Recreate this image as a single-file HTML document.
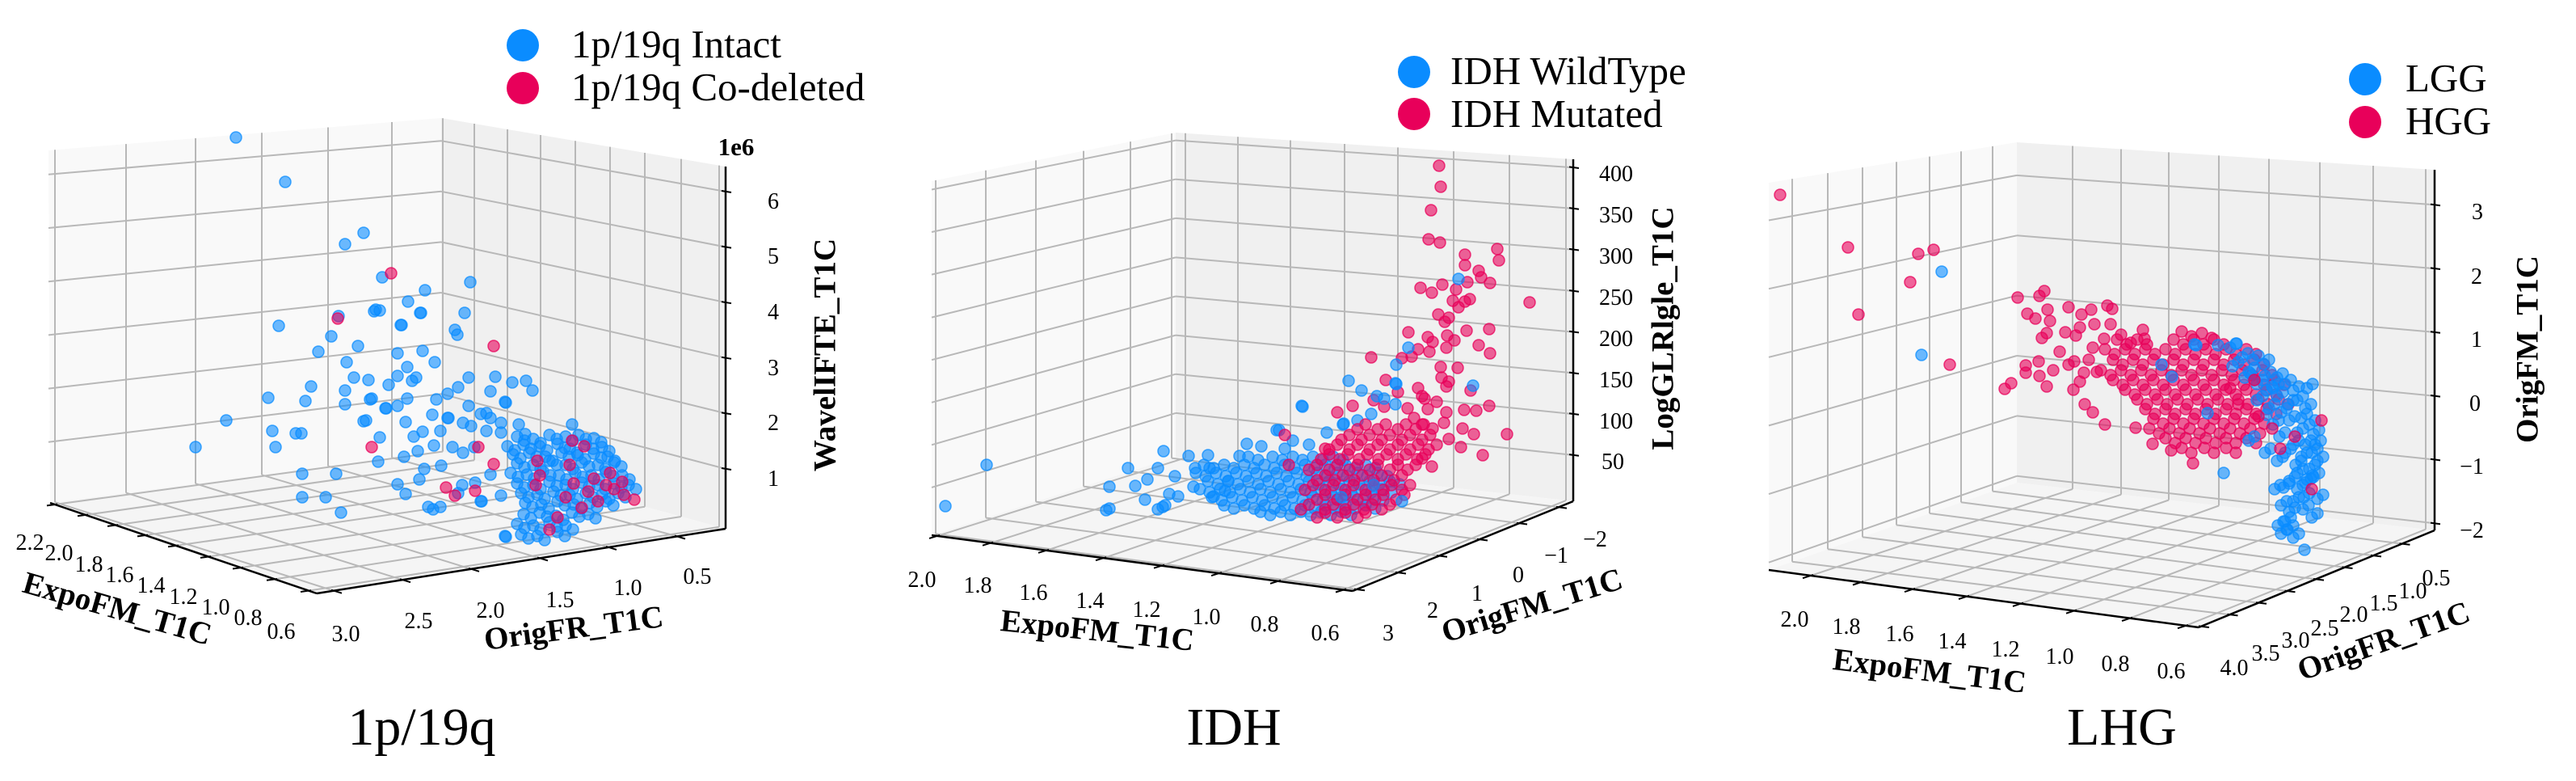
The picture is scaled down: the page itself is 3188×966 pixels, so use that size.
<!DOCTYPE html>
<html><head><meta charset="utf-8"><style>
html,body{margin:0;padding:0;background:#fff;}
svg{display:block}
.t{font-family:"Liberation Serif",serif;font-size:28px;fill:#000}
.al{font-family:"Liberation Serif",serif;font-size:39px;font-weight:bold;fill:#000}
.lg{font-family:"Liberation Serif",serif;font-size:49px;fill:#000}
.ti{font-family:"Liberation Serif",serif;font-size:66px;fill:#000}
.g line{stroke:#b8b8b8;stroke-width:2}
.ax{stroke:#000;stroke-width:2.5}
.tk line{stroke:#000;stroke-width:2}
</style></head><body>
<svg width="3188" height="966" viewBox="0 0 3188 966" xmlns="http://www.w3.org/2000/svg" xmlns:xlink="http://www.w3.org/1999/xlink">
<rect width="3188" height="966" fill="#fff"/>

<!-- ================= PANEL 1 ================= -->
<polygon points="60,186 546,146 546,558 62,622" fill="#f9f9f9"/>
<polygon points="546,146 898,206 898,654 546,558" fill="#f0f0f0"/>
<polygon points="62,622 546,558 898,654 392,734" fill="#f5f5f5"/>
<g class="g">
<line x1="68" y1="185.3" x2="68" y2="621.2"/><line x1="156" y1="178.1" x2="156" y2="609.6"/><line x1="242" y1="171" x2="242" y2="598.2"/><line x1="324" y1="164.3" x2="324" y2="587.4"/><line x1="406" y1="157.5" x2="406" y2="576.6"/><line x1="485" y1="151" x2="485" y2="566.1"/>
<line x1="60" y1="215.8" x2="546" y2="174.2"/><line x1="60" y1="282" x2="546" y2="236.8"/><line x1="60" y1="348.2" x2="546" y2="299.4"/><line x1="60" y1="414.4" x2="546" y2="362"/><line x1="60" y1="480.6" x2="546" y2="424.6"/><line x1="60" y1="546.8" x2="546" y2="487.2"/>
<line x1="546" y1="174.2" x2="898" y2="236.9"/><line x1="546" y1="236.8" x2="898" y2="305.5"/><line x1="546" y1="299.4" x2="898" y2="374.1"/><line x1="546" y1="362" x2="898" y2="442.7"/><line x1="546" y1="424.6" x2="898" y2="511.3"/><line x1="546" y1="487.2" x2="898" y2="579.9"/>
<line x1="548" y1="146.3" x2="548" y2="558.5"/><line x1="587" y1="153" x2="587" y2="569.2"/><line x1="628" y1="160" x2="628" y2="580.4"/><line x1="669" y1="167" x2="669" y2="591.5"/><line x1="712" y1="174.3" x2="712" y2="603.3"/><line x1="755" y1="181.6" x2="755" y2="615"/><line x1="798" y1="189" x2="798" y2="626.7"/><line x1="843" y1="196.6" x2="843" y2="639"/><line x1="890" y1="204.6" x2="890" y2="651.8"/>
<line x1="68" y1="624" x2="548" y2="558.5"/><line x1="106" y1="636.9" x2="587" y2="569.2"/><line x1="143" y1="649.5" x2="628" y2="580.4"/><line x1="180" y1="662" x2="669" y2="591.5"/><line x1="218" y1="674.9" x2="712" y2="603.3"/><line x1="258" y1="688.5" x2="755" y2="615"/><line x1="298" y1="702.1" x2="798" y2="626.7"/><line x1="340" y1="716.4" x2="843" y2="639"/><line x1="382" y1="730.6" x2="890" y2="651.8"/>
<line x1="68" y1="621.2" x2="413" y2="730.7"/><line x1="156" y1="609.6" x2="498" y2="717.2"/><line x1="242" y1="598.2" x2="583" y2="703.8"/><line x1="324" y1="587.4" x2="668" y2="690.4"/><line x1="406" y1="576.6" x2="753" y2="676.9"/><line x1="485" y1="566.1" x2="838" y2="663.5"/>
</g>
<line class="ax" x1="898" y1="206" x2="898" y2="654"/>
<line class="ax" x1="62" y1="622" x2="392" y2="734"/>
<line class="ax" x1="392" y1="734" x2="898" y2="654"/>
<g class="tk">
<line x1="893" y1="236" x2="905" y2="238"/><line x1="893" y1="304.6" x2="905" y2="306.6"/><line x1="893" y1="373.2" x2="905" y2="375.2"/><line x1="893" y1="441.8" x2="905" y2="443.8"/><line x1="893" y1="510.4" x2="905" y2="512.4"/><line x1="893" y1="579" x2="905" y2="581"/>
<line x1="71" y1="623.6" x2="58" y2="625.4"/><line x1="109" y1="636.5" x2="96" y2="638.3"/><line x1="146" y1="649.1" x2="133" y2="650.9"/><line x1="183" y1="661.6" x2="170" y2="663.4"/><line x1="221" y1="674.5" x2="208" y2="676.3"/><line x1="261" y1="688.1" x2="248" y2="689.9"/><line x1="301" y1="701.7" x2="288" y2="703.5"/><line x1="343" y1="716" x2="330" y2="717.8"/><line x1="385" y1="730.2" x2="372" y2="732"/>
<line x1="410" y1="729.7" x2="423" y2="733.7"/><line x1="495" y1="716.2" x2="508" y2="720.2"/><line x1="580" y1="702.8" x2="593" y2="706.8"/><line x1="665" y1="689.4" x2="678" y2="693.4"/><line x1="750" y1="675.9" x2="763" y2="679.9"/><line x1="835" y1="662.5" x2="848" y2="666.5"/>
</g>
<g fill="#0a8cff" fill-opacity=".6" stroke="#0a8cff" stroke-opacity=".75" stroke-width="1.5">
<circle cx="292" cy="170" r="7"/><circle cx="353" cy="225" r="7"/><circle cx="450" cy="288" r="7"/><circle cx="427" cy="302" r="7"/><circle cx="473" cy="343" r="7"/><circle cx="582" cy="349" r="7"/><circle cx="526" cy="359" r="7"/><circle cx="505" cy="373" r="7"/><circle cx="465" cy="383" r="7"/><circle cx="470" cy="384" r="7"/><circle cx="521" cy="387" r="7"/><circle cx="419" cy="391" r="7"/><circle cx="575" cy="387" r="7"/><circle cx="345" cy="403" r="7"/><circle cx="496" cy="402" r="7"/><circle cx="563" cy="408" r="7"/><circle cx="566" cy="414" r="7"/><circle cx="410" cy="416" r="7"/><circle cx="394" cy="435" r="7"/><circle cx="443" cy="428" r="7"/><circle cx="492" cy="437" r="7"/><circle cx="523" cy="434" r="7"/><circle cx="538" cy="448" r="7"/><circle cx="429" cy="448" r="7"/><circle cx="504" cy="454" r="7"/><circle cx="438" cy="467" r="7"/><circle cx="456" cy="470" r="7"/><circle cx="481" cy="476" r="7"/><circle cx="492" cy="465" r="7"/><circle cx="515" cy="467" r="7"/><circle cx="510" cy="471" r="7"/><circle cx="580" cy="467" r="7"/><circle cx="613" cy="466" r="7"/><circle cx="634" cy="473" r="7"/><circle cx="651" cy="471" r="7"/><circle cx="385" cy="478" r="7"/><circle cx="427" cy="483" r="7"/><circle cx="567" cy="479" r="7"/><circle cx="607" cy="484" r="7"/><circle cx="332" cy="492" r="7"/><circle cx="378" cy="496" r="7"/><circle cx="458" cy="494" r="7"/><circle cx="504" cy="493" r="7"/><circle cx="540" cy="494" r="7"/><circle cx="554" cy="487" r="7"/><circle cx="427" cy="500" r="7"/><circle cx="477" cy="505" r="7"/><circle cx="492" cy="502" r="7"/><circle cx="626" cy="498" r="7"/><circle cx="535" cy="513" r="7"/><circle cx="580" cy="502" r="7"/><circle cx="602" cy="511" r="7"/><circle cx="280" cy="520" r="7"/><circle cx="450" cy="521" r="7"/><circle cx="502" cy="522" r="7"/><circle cx="554" cy="517" r="7"/><circle cx="642" cy="525" r="7"/><circle cx="337" cy="533" r="7"/><circle cx="366" cy="536" r="7"/><circle cx="373" cy="536" r="7"/><circle cx="470" cy="541" r="7"/><circle cx="512" cy="540" r="7"/><circle cx="523" cy="534" r="7"/><circle cx="242" cy="553" r="7"/><circle cx="341" cy="553" r="7"/><circle cx="468" cy="571" r="7"/><circle cx="500" cy="565" r="7"/><circle cx="517" cy="558" r="7"/><circle cx="374" cy="586" r="7"/><circle cx="416" cy="586" r="7"/><circle cx="525" cy="580" r="7"/><circle cx="546" cy="576" r="7"/><circle cx="519" cy="593" r="7"/><circle cx="492" cy="599" r="7"/><circle cx="374" cy="615" r="7"/><circle cx="403" cy="615" r="7"/><circle cx="502" cy="611" r="7"/><circle cx="596" cy="620" r="7"/><circle cx="422" cy="634" r="7"/><circle cx="536" cy="630" r="7"/><circle cx="626" cy="664" r="7"/><circle cx="463" cy="385" r="7"/><circle cx="497" cy="402" r="7"/><circle cx="520" cy="387" r="7"/><circle cx="659" cy="483" r="7"/><circle cx="460" cy="493" r="7"/><circle cx="478" cy="505" r="7"/><circle cx="625" cy="497" r="7"/><circle cx="453" cy="520" r="7"/><circle cx="555" cy="517" r="7"/><circle cx="595" cy="512" r="7"/><circle cx="607" cy="517" r="7"/><circle cx="620" cy="523" r="7"/><circle cx="545" cy="533" r="7"/><circle cx="573" cy="523" r="7"/><circle cx="583" cy="527" r="7"/><circle cx="602" cy="533" r="7"/><circle cx="620" cy="535" r="7"/><circle cx="650" cy="537" r="7"/><circle cx="537" cy="551" r="7"/><circle cx="560" cy="553" r="7"/><circle cx="573" cy="560" r="7"/><circle cx="587" cy="553" r="7"/><circle cx="530" cy="627" r="7"/><circle cx="545" cy="627" r="7"/><circle cx="595" cy="620" r="7"/><circle cx="625" cy="663" r="7"/><circle cx="567" cy="610" r="7"/><circle cx="572" cy="600" r="7"/><circle cx="588" cy="597" r="7"/><circle cx="607" cy="587" r="7"/><circle cx="620" cy="613" r="7"/><circle cx="708" cy="525" r="7"/>
</g>
<g id="d1b" fill="#0a8cff" fill-opacity=".6" stroke="#0a8cff" stroke-opacity=".75" stroke-width="1.5">
<circle cx="640" cy="540" r="7"/><circle cx="660" cy="543" r="7"/><circle cx="680" cy="538" r="7"/><circle cx="700" cy="540" r="7"/><circle cx="716" cy="538" r="7"/><circle cx="735" cy="542" r="7"/>
<circle cx="628" cy="552" r="7"/><circle cx="648" cy="550" r="7"/><circle cx="668" cy="552" r="7"/><circle cx="690" cy="549" r="7"/><circle cx="705" cy="555" r="7"/><circle cx="725" cy="550" r="7"/><circle cx="745" cy="553" r="7"/>
<circle cx="635" cy="562" r="7"/><circle cx="655" cy="560" r="7"/><circle cx="675" cy="565" r="7"/><circle cx="695" cy="560" r="7"/><circle cx="715" cy="563" r="7"/><circle cx="735" cy="561" r="7"/><circle cx="752" cy="565" r="7"/>
<circle cx="640" cy="573" r="7"/><circle cx="660" cy="575" r="7"/><circle cx="680" cy="570" r="7"/><circle cx="700" cy="575" r="7"/><circle cx="720" cy="572" r="7"/><circle cx="740" cy="575" r="7"/><circle cx="760" cy="572" r="7"/>
<circle cx="632" cy="585" r="7"/><circle cx="652" cy="587" r="7"/><circle cx="672" cy="583" r="7"/><circle cx="692" cy="588" r="7"/><circle cx="712" cy="585" r="7"/><circle cx="732" cy="588" r="7"/><circle cx="750" cy="584" r="7"/><circle cx="770" cy="588" r="7"/>
<circle cx="640" cy="598" r="7"/><circle cx="660" cy="600" r="7"/><circle cx="680" cy="596" r="7"/><circle cx="700" cy="600" r="7"/><circle cx="720" cy="597" r="7"/><circle cx="740" cy="600" r="7"/><circle cx="760" cy="598" r="7"/><circle cx="778" cy="600" r="7"/>
<circle cx="645" cy="610" r="7"/><circle cx="665" cy="612" r="7"/><circle cx="685" cy="608" r="7"/><circle cx="705" cy="612" r="7"/><circle cx="725" cy="610" r="7"/><circle cx="745" cy="612" r="7"/><circle cx="765" cy="610" r="7"/>
<circle cx="650" cy="622" r="7"/><circle cx="670" cy="624" r="7"/><circle cx="690" cy="620" r="7"/><circle cx="710" cy="624" r="7"/><circle cx="730" cy="622" r="7"/><circle cx="750" cy="620" r="7"/>
<circle cx="648" cy="636" r="7"/><circle cx="668" cy="634" r="7"/><circle cx="688" cy="638" r="7"/><circle cx="708" cy="634" r="7"/><circle cx="728" cy="636" r="7"/>
<circle cx="640" cy="648" r="7"/><circle cx="660" cy="650" r="7"/><circle cx="680" cy="646" r="7"/><circle cx="700" cy="650" r="7"/>
<circle cx="645" cy="661" r="7"/><circle cx="665" cy="663" r="7"/><circle cx="690" cy="658" r="7"/>
</g>
<use href="#d1b" xlink:href="#d1b" x="9" y="5"/>
<g id="d1r" fill="#e8005a" fill-opacity=".6" stroke="#e8005a" stroke-opacity=".75" stroke-width="1.5">
<circle cx="484" cy="338" r="7"/><circle cx="418" cy="394" r="7"/><circle cx="611" cy="428" r="7"/><circle cx="460" cy="553" r="7"/><circle cx="592" cy="553" r="7"/><circle cx="611" cy="574" r="7"/><circle cx="552" cy="603" r="7"/><circle cx="563" cy="613" r="7"/><circle cx="588" cy="607" r="7"/><circle cx="708" cy="545" r="7"/><circle cx="723" cy="552" r="7"/>
<circle cx="665" cy="570" r="7"/><circle cx="668" cy="588" r="7"/><circle cx="663" cy="600" r="7"/><circle cx="700" cy="615" r="7"/><circle cx="710" cy="598" r="7"/><circle cx="735" cy="592" r="7"/><circle cx="750" cy="600" r="7"/><circle cx="760" cy="605" r="7"/><circle cx="772" cy="612" r="7"/><circle cx="785" cy="618" r="7"/><circle cx="690" cy="640" r="7"/><circle cx="720" cy="628" r="7"/><circle cx="740" cy="620" r="7"/><circle cx="680" cy="655" r="7"/><circle cx="705" cy="575" r="7"/><circle cx="770" cy="596" r="7"/><circle cx="755" cy="585" r="7"/><circle cx="728" cy="608" r="7"/>
</g>
<g class="t" text-anchor="middle">
<text x="37" y="680">2.2</text><text x="73" y="693">2.0</text><text x="110" y="707">1.8</text><text x="148" y="720">1.6</text><text x="187" y="733">1.4</text><text x="227" y="747">1.2</text><text x="267" y="760">1.0</text><text x="307" y="773">0.8</text><text x="348" y="790">0.6</text>
<text x="428" y="793">3.0</text><text x="518" y="777">2.5</text><text x="607" y="764">2.0</text><text x="693" y="751">1.5</text><text x="777" y="736">1.0</text><text x="863" y="722">0.5</text>
<text x="957" y="258">6</text><text x="957" y="326">5</text><text x="957" y="395">4</text><text x="957" y="464">3</text><text x="957" y="532">2</text><text x="957" y="601">1</text>
</g>
<text x="911" y="192" text-anchor="middle" font-family="Liberation Serif, serif" font-size="31" font-weight="bold">1e6</text>
<text class="al" transform="translate(145,753) rotate(16)" text-anchor="middle" dominant-baseline="central">ExpoFM_T1C</text>
<text class="al" transform="translate(710,777) rotate(-7.5)" text-anchor="middle" dominant-baseline="central">OrigFR_T1C</text>
<text class="al" transform="translate(1021,439) rotate(-90)" text-anchor="middle" dominant-baseline="central">WavelIFTE_T1C</text>
<circle cx="647" cy="56" r="20" fill="#0a8cff"/>
<circle cx="647" cy="109" r="20" fill="#e8005a"/>
<text class="lg" x="707" y="71">1p/19q Intact</text>
<text class="lg" x="707" y="124">1p/19q Co-deleted</text>
<text class="ti" x="522" y="921" text-anchor="middle">1p/19q</text>

<!-- ================= PANEL 2 ================= -->
<polygon points="1153,224 1455,164 1455,565 1153,662" fill="#f9f9f9"/>
<polygon points="1455,164 1947,197 1947,620 1455,565" fill="#f0f0f0"/>
<polygon points="1153,662 1455,565 1947,620 1674,731" fill="#f5f5f5"/>
<g class="g">
<line x1="1158" y1="223" x2="1158" y2="660.4"/><line x1="1220" y1="210.7" x2="1220" y2="640.5"/><line x1="1282" y1="198.4" x2="1282" y2="620.6"/><line x1="1341" y1="186.6" x2="1341" y2="601.6"/><line x1="1399" y1="175.1" x2="1399" y2="583"/><line x1="1450" y1="165" x2="1450" y2="566.6"/>
<line x1="1153" y1="234.5" x2="1455" y2="173.6"/><line x1="1153" y1="287" x2="1455" y2="221.7"/><line x1="1153" y1="339.6" x2="1455" y2="269.9"/><line x1="1153" y1="392.6" x2="1455" y2="318.4"/><line x1="1153" y1="445.2" x2="1455" y2="366.5"/><line x1="1153" y1="497.8" x2="1455" y2="414.6"/><line x1="1153" y1="550.3" x2="1455" y2="462.7"/><line x1="1153" y1="602.9" x2="1455" y2="510.9"/>
<line x1="1455" y1="173.6" x2="1947" y2="207.2"/><line x1="1455" y1="221.7" x2="1947" y2="257.9"/><line x1="1455" y1="269.9" x2="1947" y2="308.7"/><line x1="1455" y1="318.4" x2="1947" y2="359.9"/><line x1="1455" y1="366.5" x2="1947" y2="410.6"/><line x1="1455" y1="414.6" x2="1947" y2="461.4"/><line x1="1455" y1="462.7" x2="1947" y2="512.1"/><line x1="1455" y1="510.9" x2="1947" y2="562.9"/>
<line x1="1467" y1="164.8" x2="1467" y2="566.3"/><line x1="1532" y1="169.2" x2="1532" y2="573.6"/><line x1="1597" y1="173.5" x2="1597" y2="580.9"/><line x1="1664" y1="178" x2="1664" y2="588.4"/><line x1="1730" y1="182.4" x2="1730" y2="595.7"/><line x1="1799" y1="187.1" x2="1799" y2="603.5"/><line x1="1868" y1="191.7" x2="1868" y2="611.2"/><line x1="1938" y1="196.4" x2="1938" y2="619"/>
<line x1="1160" y1="662.9" x2="1467" y2="566.3"/><line x1="1226" y1="671.7" x2="1532" y2="573.6"/><line x1="1295" y1="680.8" x2="1597" y2="580.9"/><line x1="1366" y1="690.2" x2="1664" y2="588.4"/><line x1="1438" y1="699.7" x2="1730" y2="595.7"/><line x1="1509" y1="709.1" x2="1799" y2="603.5"/><line x1="1582" y1="718.8" x2="1868" y2="611.2"/><line x1="1663" y1="729.5" x2="1938" y2="619"/>
<line x1="1158" y1="660.4" x2="1679" y2="729"/><line x1="1220" y1="640.5" x2="1730" y2="708.2"/><line x1="1282" y1="620.6" x2="1781" y2="687.5"/><line x1="1341" y1="601.6" x2="1831" y2="667.2"/><line x1="1399" y1="583" x2="1880" y2="647.2"/><line x1="1450" y1="566.6" x2="1929" y2="627.3"/>
</g>
<line class="ax" x1="1947" y1="197" x2="1947" y2="620"/>
<line class="ax" x1="1153" y1="662" x2="1674" y2="731"/>
<line class="ax" x1="1674" y1="731" x2="1947" y2="620"/>
<g class="tk">
<line x1="1942" y1="206.4" x2="1954" y2="208"/><line x1="1942" y1="257.1" x2="1954" y2="258.7"/><line x1="1942" y1="307.9" x2="1954" y2="309.5"/><line x1="1942" y1="359.1" x2="1954" y2="360.7"/><line x1="1942" y1="409.8" x2="1954" y2="411.4"/><line x1="1942" y1="460.6" x2="1954" y2="462.2"/><line x1="1942" y1="511.3" x2="1954" y2="512.9"/><line x1="1942" y1="562.1" x2="1954" y2="563.7"/>
<line x1="1163" y1="661.9" x2="1150" y2="665.9"/><line x1="1229" y1="670.7" x2="1216" y2="674.7"/><line x1="1298" y1="679.8" x2="1285" y2="683.8"/><line x1="1369" y1="689.2" x2="1356" y2="693.2"/><line x1="1441" y1="698.7" x2="1428" y2="702.7"/><line x1="1512" y1="708.1" x2="1499" y2="712.1"/><line x1="1585" y1="717.8" x2="1572" y2="721.8"/><line x1="1666" y1="728.5" x2="1653" y2="732.5"/>
<line x1="1676" y1="728.6" x2="1689" y2="730.3"/><line x1="1727" y1="707.8" x2="1740" y2="709.5"/><line x1="1778" y1="687.1" x2="1791" y2="688.8"/><line x1="1828" y1="666.8" x2="1841" y2="668.5"/><line x1="1877" y1="646.8" x2="1890" y2="648.5"/><line x1="1926" y1="626.9" x2="1939" y2="628.6"/>
</g>
<g fill="#0a8cff" fill-opacity=".6" stroke="#0a8cff" stroke-opacity=".75" stroke-width="1.5">
<circle cx="1170" cy="626" r="7"/><circle cx="1221" cy="575" r="7"/><circle cx="1369" cy="631" r="7"/><circle cx="1373" cy="629" r="7"/><circle cx="1373" cy="602" r="7"/><circle cx="1396" cy="579" r="7"/><circle cx="1405" cy="601" r="7"/><circle cx="1417" cy="618" r="7"/><circle cx="1420" cy="593" r="7"/><circle cx="1433" cy="579" r="7"/><circle cx="1440" cy="558" r="7"/><circle cx="1433" cy="630" r="7"/><circle cx="1439" cy="627" r="7"/><circle cx="1442" cy="625" r="7"/><circle cx="1447" cy="611" r="7"/><circle cx="1454" cy="589" r="7"/><circle cx="1458" cy="614" r="7"/><circle cx="1471" cy="564" r="7"/><circle cx="1477" cy="602" r="7"/><circle cx="1479" cy="579" r="7"/><circle cx="1495" cy="563" r="7"/><circle cx="1497" cy="579" r="7"/><circle cx="1502" cy="614" r="7"/><circle cx="1516" cy="607" r="7"/><circle cx="1520" cy="595" r="7"/><circle cx="1534" cy="564" r="7"/><circle cx="1543" cy="549" r="7"/><circle cx="1561" cy="552" r="7"/><circle cx="1580" cy="532" r="7"/><circle cx="1611" cy="502" r="7"/><circle cx="1642" cy="535" r="7"/><circle cx="1663" cy="524" r="7"/><circle cx="1612" cy="503" r="7"/><circle cx="1662" cy="525" r="7"/><circle cx="1680" cy="520" r="7"/><circle cx="1583" cy="532" r="7"/><circle cx="1600" cy="545" r="7"/><circle cx="1620" cy="550" r="7"/><circle cx="1590" cy="555" r="7"/>
</g>
<g id="d2b" fill="#0a8cff" fill-opacity=".6" stroke="#0a8cff" stroke-opacity=".75" stroke-width="1.5">
<circle cx="1545" cy="565" r="7"/><circle cx="1575" cy="565" r="7"/><circle cx="1600" cy="565" r="7"/><circle cx="1625" cy="565" r="7"/><circle cx="1650" cy="565" r="7"/>
<circle cx="1490" cy="575" r="7"/><circle cx="1515" cy="575" r="7"/><circle cx="1540" cy="575" r="7"/><circle cx="1565" cy="575" r="7"/><circle cx="1590" cy="575" r="7"/><circle cx="1615" cy="575" r="7"/><circle cx="1640" cy="575" r="7"/><circle cx="1665" cy="575" r="7"/><circle cx="1690" cy="575" r="7"/>
<circle cx="1480" cy="585" r="7"/><circle cx="1505" cy="585" r="7"/><circle cx="1530" cy="585" r="7"/><circle cx="1555" cy="585" r="7"/><circle cx="1580" cy="585" r="7"/><circle cx="1605" cy="585" r="7"/><circle cx="1630" cy="585" r="7"/><circle cx="1655" cy="585" r="7"/><circle cx="1680" cy="585" r="7"/><circle cx="1705" cy="585" r="7"/>
<circle cx="1495" cy="595" r="7"/><circle cx="1520" cy="595" r="7"/><circle cx="1545" cy="595" r="7"/><circle cx="1570" cy="595" r="7"/><circle cx="1595" cy="595" r="7"/><circle cx="1620" cy="595" r="7"/><circle cx="1645" cy="595" r="7"/><circle cx="1670" cy="595" r="7"/><circle cx="1695" cy="595" r="7"/><circle cx="1720" cy="595" r="7"/>
<circle cx="1485" cy="605" r="7"/><circle cx="1510" cy="605" r="7"/><circle cx="1535" cy="605" r="7"/><circle cx="1560" cy="605" r="7"/><circle cx="1585" cy="605" r="7"/><circle cx="1610" cy="605" r="7"/><circle cx="1635" cy="605" r="7"/><circle cx="1660" cy="605" r="7"/><circle cx="1685" cy="605" r="7"/><circle cx="1710" cy="605" r="7"/>
<circle cx="1500" cy="615" r="7"/><circle cx="1525" cy="615" r="7"/><circle cx="1550" cy="615" r="7"/><circle cx="1575" cy="615" r="7"/><circle cx="1600" cy="615" r="7"/><circle cx="1625" cy="615" r="7"/><circle cx="1650" cy="615" r="7"/><circle cx="1675" cy="615" r="7"/><circle cx="1700" cy="615" r="7"/>
<circle cx="1515" cy="625" r="7"/><circle cx="1540" cy="625" r="7"/><circle cx="1565" cy="625" r="7"/><circle cx="1590" cy="625" r="7"/><circle cx="1615" cy="625" r="7"/><circle cx="1640" cy="625" r="7"/><circle cx="1665" cy="625" r="7"/><circle cx="1690" cy="625" r="7"/>
<circle cx="1560" cy="633" r="7"/><circle cx="1585" cy="633" r="7"/><circle cx="1610" cy="633" r="7"/><circle cx="1635" cy="633" r="7"/><circle cx="1660" cy="633" r="7"/>
</g>
<use href="#d2b" xlink:href="#d2b" x="12" y="4"/>
<g fill="#e8005a" fill-opacity=".6" stroke="#e8005a" stroke-opacity=".75" stroke-width="1.5">
<circle cx="1781" cy="205" r="7"/><circle cx="1783" cy="231" r="7"/><circle cx="1771" cy="260" r="7"/><circle cx="1768" cy="296" r="7"/><circle cx="1782" cy="300" r="7"/><circle cx="1813" cy="315" r="7"/><circle cx="1853" cy="308" r="7"/><circle cx="1855" cy="322" r="7"/><circle cx="1813" cy="328" r="7"/><circle cx="1830" cy="335" r="7"/><circle cx="1833" cy="343" r="7"/><circle cx="1844" cy="350" r="7"/><circle cx="1816" cy="349" r="7"/><circle cx="1758" cy="356" r="7"/><circle cx="1772" cy="362" r="7"/><circle cx="1785" cy="352" r="7"/><circle cx="1802" cy="358" r="7"/><circle cx="1798" cy="372" r="7"/><circle cx="1813" cy="373" r="7"/><circle cx="1819" cy="370" r="7"/><circle cx="1805" cy="380" r="7"/><circle cx="1893" cy="374" r="7"/><circle cx="1780" cy="389" r="7"/><circle cx="1793" cy="393" r="7"/><circle cx="1788" cy="398" r="7"/><circle cx="1743" cy="411" r="7"/><circle cx="1767" cy="417" r="7"/><circle cx="1773" cy="423" r="7"/><circle cx="1791" cy="415" r="7"/><circle cx="1800" cy="421" r="7"/><circle cx="1815" cy="409" r="7"/><circle cx="1843" cy="407" r="7"/><circle cx="1830" cy="427" r="7"/><circle cx="1844" cy="437" r="7"/><circle cx="1697" cy="442" r="7"/><circle cx="1735" cy="443" r="7"/><circle cx="1747" cy="441" r="7"/><circle cx="1755" cy="432" r="7"/><circle cx="1769" cy="435" r="7"/><circle cx="1790" cy="430" r="7"/><circle cx="1783" cy="454" r="7"/><circle cx="1804" cy="455" r="7"/><circle cx="1784" cy="467" r="7"/><circle cx="1793" cy="472" r="7"/><circle cx="1790" cy="478" r="7"/><circle cx="1755" cy="480" r="7"/><circle cx="1760" cy="490" r="7"/><circle cx="1820" cy="483" r="7"/><circle cx="1674" cy="502" r="7"/><circle cx="1713" cy="503" r="7"/><circle cx="1763" cy="493" r="7"/><circle cx="1778" cy="497" r="7"/><circle cx="1767" cy="506" r="7"/><circle cx="1790" cy="510" r="7"/><circle cx="1812" cy="507" r="7"/><circle cx="1827" cy="508" r="7"/><circle cx="1843" cy="502" r="7"/><circle cx="1750" cy="517" r="7"/><circle cx="1760" cy="525" r="7"/><circle cx="1773" cy="530" r="7"/><circle cx="1787" cy="523" r="7"/><circle cx="1810" cy="530" r="7"/><circle cx="1824" cy="537" r="7"/><circle cx="1865" cy="537" r="7"/><circle cx="1793" cy="543" r="7"/><circle cx="1808" cy="553" r="7"/><circle cx="1835" cy="563" r="7"/><circle cx="1772" cy="577" r="7"/><circle cx="1760" cy="567" r="7"/><circle cx="1715" cy="470" r="7"/><circle cx="1730" cy="485" r="7"/><circle cx="1700" cy="495" r="7"/><circle cx="1742" cy="505" r="7"/><circle cx="1655" cy="510" r="7"/><circle cx="1640" cy="555" r="7"/><circle cx="1595" cy="575" r="7"/><circle cx="1590" cy="538" r="7"/>
</g>
<g id="d2r" fill="#e8005a" fill-opacity=".6" stroke="#e8005a" stroke-opacity=".75" stroke-width="1.5">
<circle cx="1690" cy="525" r="7"/><circle cx="1715" cy="525" r="7"/><circle cx="1740" cy="525" r="7"/><circle cx="1762" cy="525" r="7"/>
<circle cx="1670" cy="538" r="7"/><circle cx="1695" cy="538" r="7"/><circle cx="1720" cy="538" r="7"/><circle cx="1745" cy="538" r="7"/><circle cx="1770" cy="538" r="7"/>
<circle cx="1655" cy="550" r="7"/><circle cx="1680" cy="550" r="7"/><circle cx="1705" cy="550" r="7"/><circle cx="1730" cy="550" r="7"/><circle cx="1755" cy="550" r="7"/><circle cx="1778" cy="550" r="7"/>
<circle cx="1645" cy="562" r="7"/><circle cx="1668" cy="562" r="7"/><circle cx="1692" cy="562" r="7"/><circle cx="1716" cy="562" r="7"/><circle cx="1740" cy="562" r="7"/><circle cx="1764" cy="562" r="7"/>
<circle cx="1630" cy="575" r="7"/><circle cx="1655" cy="575" r="7"/><circle cx="1680" cy="575" r="7"/><circle cx="1705" cy="575" r="7"/><circle cx="1730" cy="575" r="7"/><circle cx="1752" cy="575" r="7"/>
<circle cx="1640" cy="588" r="7"/><circle cx="1662" cy="588" r="7"/><circle cx="1686" cy="588" r="7"/><circle cx="1710" cy="588" r="7"/><circle cx="1735" cy="588" r="7"/>
<circle cx="1625" cy="600" r="7"/><circle cx="1650" cy="600" r="7"/><circle cx="1675" cy="600" r="7"/><circle cx="1700" cy="600" r="7"/><circle cx="1722" cy="600" r="7"/><circle cx="1745" cy="600" r="7"/>
<circle cx="1640" cy="612" r="7"/><circle cx="1665" cy="612" r="7"/><circle cx="1690" cy="612" r="7"/><circle cx="1712" cy="612" r="7"/><circle cx="1738" cy="612" r="7"/>
<circle cx="1620" cy="624" r="7"/><circle cx="1650" cy="624" r="7"/><circle cx="1675" cy="624" r="7"/><circle cx="1698" cy="624" r="7"/><circle cx="1720" cy="624" r="7"/>
<circle cx="1640" cy="634" r="7"/><circle cx="1665" cy="634" r="7"/><circle cx="1690" cy="634" r="7"/>
</g>
<use href="#d2r" xlink:href="#d2r" x="-10" y="6"/>
<g fill="#0a8cff" fill-opacity=".6" stroke="#0a8cff" stroke-opacity=".75" stroke-width="1.5">
<circle cx="1669" cy="471" r="7"/><circle cx="1685" cy="483" r="7"/><circle cx="1704" cy="490" r="7"/><circle cx="1727" cy="474" r="7"/><circle cx="1728" cy="451" r="7"/><circle cx="1728" cy="475" r="7"/><circle cx="1743" cy="430" r="7"/><circle cx="1805" cy="345" r="7"/><circle cx="1823" cy="477" r="7"/><circle cx="1697" cy="512" r="7"/><circle cx="1713" cy="493" r="7"/><circle cx="1727" cy="500" r="7"/><circle cx="1700" cy="600" r="7"/><circle cx="1735" cy="620" r="7"/><circle cx="1660" cy="615" r="7"/>
</g>
<g class="t" text-anchor="middle">
<text x="1141" y="726">2.0</text><text x="1210" y="733">1.8</text><text x="1279" y="742">1.6</text><text x="1349" y="752">1.4</text><text x="1419" y="763">1.2</text><text x="1493" y="772">1.0</text><text x="1565" y="781">0.8</text><text x="1640" y="792">0.6</text>
<text x="1718" y="792">3</text><text x="1773" y="764">2</text><text x="1828" y="743">1</text><text x="1879" y="720">0</text><text x="1926" y="696">−1</text><text x="1974" y="676">−2</text>
<text x="2000" y="224">400</text><text x="2000" y="275">350</text><text x="2000" y="326">300</text><text x="2000" y="377">250</text><text x="2000" y="428">200</text><text x="2000" y="479">150</text><text x="2000" y="530">100</text><text x="1996" y="580">50</text>
</g>
<text class="al" transform="translate(1358,780) rotate(6)" text-anchor="middle" dominant-baseline="central">ExpoFM_T1C</text>
<text class="al" transform="translate(1896,749) rotate(-17)" text-anchor="middle" dominant-baseline="central">OrigFM_T1C</text>
<text class="al" transform="translate(2058,406) rotate(-90)" text-anchor="middle" dominant-baseline="central">LogGLRlgle_T1C</text>
<circle cx="1750" cy="89" r="20" fill="#0a8cff"/>
<circle cx="1750" cy="141" r="20" fill="#e8005a"/>
<text class="lg" x="1795" y="104">IDH WildType</text>
<text class="lg" x="1795" y="157">IDH Mutated</text>
<text class="ti" x="1527" y="921" text-anchor="middle">IDH</text>

<!-- ================= PANEL 3 ================= -->
<polygon points="2189,226 2496,176 2496,597 2189,705" fill="#f9f9f9"/>
<polygon points="2496,176 3013,210 3013,656 2496,597" fill="#f0f0f0"/>
<polygon points="2189,705 2496,597 3013,656 2721,776" fill="#f5f5f5"/>
<g class="g">
<line x1="2218" y1="221.3" x2="2218" y2="694.8"/><line x1="2262" y1="214.1" x2="2262" y2="679.3"/><line x1="2305" y1="207.1" x2="2305" y2="664.2"/><line x1="2347" y1="200.3" x2="2347" y2="649.4"/><line x1="2388" y1="193.6" x2="2388" y2="635"/><line x1="2427" y1="187.2" x2="2427" y2="621.3"/><line x1="2466" y1="180.9" x2="2466" y2="607.6"/>
<line x1="2189" y1="272.5" x2="2496" y2="216.9"/><line x1="2189" y1="357.2" x2="2496" y2="291.3"/><line x1="2189" y1="441.8" x2="2496" y2="365.7"/><line x1="2189" y1="526.4" x2="2496" y2="440"/><line x1="2189" y1="611.1" x2="2496" y2="514.4"/><line x1="2189" y1="695.7" x2="2496" y2="588.8"/>
<line x1="2496" y1="216.9" x2="3013" y2="253.3"/><line x1="2496" y1="291.3" x2="3013" y2="332.1"/><line x1="2496" y1="365.7" x2="3013" y2="410.9"/><line x1="2496" y1="440" x2="3013" y2="489.7"/><line x1="2496" y1="514.4" x2="3013" y2="568.5"/><line x1="2496" y1="588.8" x2="3013" y2="647.3"/>
<line x1="2565" y1="180.5" x2="2565" y2="604.9"/><line x1="2625" y1="184.5" x2="2625" y2="611.7"/><line x1="2684" y1="188.4" x2="2684" y2="618.5"/><line x1="2746" y1="192.4" x2="2746" y2="625.5"/><line x1="2808" y1="196.5" x2="2808" y2="632.6"/><line x1="2871" y1="200.7" x2="2871" y2="639.8"/><line x1="2937" y1="205" x2="2937" y2="647.3"/><line x1="3002" y1="209.3" x2="3002" y2="654.7"/>
<line x1="2241" y1="711.9" x2="2565" y2="604.9"/><line x1="2303" y1="720.2" x2="2625" y2="611.7"/><line x1="2367" y1="728.8" x2="2684" y2="618.5"/><line x1="2434" y1="737.7" x2="2746" y2="625.5"/><line x1="2501" y1="746.6" x2="2808" y2="632.6"/><line x1="2567" y1="755.4" x2="2871" y2="639.8"/><line x1="2636" y1="764.7" x2="2937" y2="647.3"/><line x1="2705" y1="773.9" x2="3002" y2="654.7"/>
<line x1="2218" y1="694.8" x2="2759.5" y2="760.2"/><line x1="2262" y1="679.3" x2="2795" y2="745.6"/><line x1="2305" y1="664.2" x2="2830.5" y2="731"/><line x1="2347" y1="649.4" x2="2866" y2="716.4"/><line x1="2388" y1="635" x2="2901.5" y2="701.8"/><line x1="2427" y1="621.3" x2="2937" y2="687.2"/><line x1="2466" y1="607.6" x2="2972.5" y2="672.6"/>
</g>
<line class="ax" x1="3013" y1="210" x2="3013" y2="656"/>
<line class="ax" x1="2189" y1="705" x2="2721" y2="776"/>
<line class="ax" x1="2721" y1="776" x2="3013" y2="656"/>
<g class="tk">
<line x1="3008" y1="252.6" x2="3020" y2="254.2"/><line x1="3008" y1="331.4" x2="3020" y2="333"/><line x1="3008" y1="410.2" x2="3020" y2="411.8"/><line x1="3008" y1="489" x2="3020" y2="490.6"/><line x1="3008" y1="567.8" x2="3020" y2="569.4"/><line x1="3008" y1="646.6" x2="3020" y2="648.2"/>
<line x1="2244" y1="710.9" x2="2231" y2="715.2"/><line x1="2306" y1="719.2" x2="2293" y2="723.5"/><line x1="2370" y1="727.8" x2="2357" y2="732.1"/><line x1="2437" y1="736.7" x2="2424" y2="741"/><line x1="2504" y1="745.6" x2="2491" y2="749.9"/><line x1="2570" y1="754.4" x2="2557" y2="758.7"/><line x1="2639" y1="763.7" x2="2626" y2="768"/><line x1="2708" y1="772.9" x2="2695" y2="777.2"/>
<line x1="2721" y1="774.4" x2="2734" y2="776"/><line x1="2756.5" y1="759.8" x2="2769.5" y2="761.4"/><line x1="2792" y1="745.2" x2="2805" y2="746.8"/><line x1="2827.5" y1="730.6" x2="2840.5" y2="732.2"/><line x1="2863" y1="716" x2="2876" y2="717.6"/><line x1="2898.5" y1="701.4" x2="2911.5" y2="703"/><line x1="2934" y1="686.8" x2="2947" y2="688.4"/><line x1="2969.5" y1="672.2" x2="2982.5" y2="673.8"/>
</g>
<g fill="#e8005a" fill-opacity=".6" stroke="#e8005a" stroke-opacity=".75" stroke-width="1.5">
<circle cx="2203" cy="241" r="7"/><circle cx="2287" cy="306" r="7"/><circle cx="2374" cy="314" r="7"/><circle cx="2393" cy="309" r="7"/><circle cx="2364" cy="349" r="7"/><circle cx="2300" cy="389" r="7"/><circle cx="2413" cy="451" r="7"/><circle cx="2497" cy="368" r="7"/><circle cx="2524" cy="366" r="7"/><circle cx="2530" cy="360" r="7"/><circle cx="2509" cy="388" r="7"/><circle cx="2519" cy="394" r="7"/><circle cx="2534" cy="383" r="7"/><circle cx="2537" cy="397" r="7"/><circle cx="2560" cy="380" r="7"/><circle cx="2576" cy="389" r="7"/><circle cx="2588" cy="383" r="7"/><circle cx="2608" cy="378" r="7"/><circle cx="2614" cy="382" r="7"/><circle cx="2527" cy="418" r="7"/><circle cx="2533" cy="412" r="7"/><circle cx="2556" cy="411" r="7"/><circle cx="2574" cy="405" r="7"/><circle cx="2592" cy="401" r="7"/><circle cx="2612" cy="401" r="7"/><circle cx="2569" cy="415" r="7"/><circle cx="2549" cy="435" r="7"/><circle cx="2523" cy="447" r="7"/><circle cx="2507" cy="452" r="7"/><circle cx="2507" cy="461" r="7"/><circle cx="2524" cy="465" r="7"/><circle cx="2541" cy="458" r="7"/><circle cx="2560" cy="451" r="7"/><circle cx="2567" cy="447" r="7"/><circle cx="2579" cy="461" r="7"/><circle cx="2574" cy="472" r="7"/><circle cx="2566" cy="482" r="7"/><circle cx="2533" cy="478" r="7"/><circle cx="2489" cy="474" r="7"/><circle cx="2481" cy="481" r="7"/><circle cx="2604" cy="419" r="7"/><circle cx="2625" cy="414" r="7"/><circle cx="2637" cy="424" r="7"/><circle cx="2652" cy="408" r="7"/><circle cx="2654" cy="419" r="7"/><circle cx="2605" cy="525" r="7"/><circle cx="2643" cy="529" r="7"/><circle cx="2664" cy="549" r="7"/><circle cx="2687" cy="557" r="7"/><circle cx="2714" cy="573" r="7"/><circle cx="2590" cy="430" r="7"/><circle cx="2585" cy="445" r="7"/><circle cx="2595" cy="460" r="7"/><circle cx="2580" cy="500" r="7"/><circle cx="2590" cy="510" r="7"/>
</g>
<g id="d3r" fill="#e8005a" fill-opacity=".6" stroke="#e8005a" stroke-opacity=".75" stroke-width="1.5">
<circle cx="2620" cy="420" r="7"/><circle cx="2645" cy="420" r="7"/><circle cx="2690" cy="420" r="7"/><circle cx="2715" cy="420" r="7"/><circle cx="2740" cy="420" r="7"/><circle cx="2700" cy="410" r="7"/><circle cx="2725" cy="412" r="7"/>
<circle cx="2605" cy="432" r="7"/><circle cx="2630" cy="432" r="7"/><circle cx="2655" cy="432" r="7"/><circle cx="2680" cy="432" r="7"/><circle cx="2705" cy="432" r="7"/><circle cx="2730" cy="432" r="7"/><circle cx="2755" cy="432" r="7"/><circle cx="2780" cy="432" r="7"/>
<circle cx="2615" cy="445" r="7"/><circle cx="2640" cy="445" r="7"/><circle cx="2665" cy="445" r="7"/><circle cx="2690" cy="445" r="7"/><circle cx="2715" cy="445" r="7"/><circle cx="2740" cy="445" r="7"/><circle cx="2765" cy="445" r="7"/><circle cx="2790" cy="445" r="7"/>
<circle cx="2600" cy="458" r="7"/><circle cx="2625" cy="458" r="7"/><circle cx="2650" cy="458" r="7"/><circle cx="2675" cy="458" r="7"/><circle cx="2700" cy="458" r="7"/><circle cx="2725" cy="458" r="7"/><circle cx="2750" cy="458" r="7"/><circle cx="2775" cy="458" r="7"/><circle cx="2800" cy="458" r="7"/>
<circle cx="2615" cy="470" r="7"/><circle cx="2640" cy="470" r="7"/><circle cx="2665" cy="470" r="7"/><circle cx="2690" cy="470" r="7"/><circle cx="2715" cy="470" r="7"/><circle cx="2740" cy="470" r="7"/><circle cx="2765" cy="470" r="7"/><circle cx="2790" cy="470" r="7"/><circle cx="2815" cy="470" r="7"/>
<circle cx="2630" cy="482" r="7"/><circle cx="2655" cy="482" r="7"/><circle cx="2680" cy="482" r="7"/><circle cx="2705" cy="482" r="7"/><circle cx="2730" cy="482" r="7"/><circle cx="2755" cy="482" r="7"/><circle cx="2780" cy="482" r="7"/><circle cx="2805" cy="482" r="7"/>
<circle cx="2645" cy="494" r="7"/><circle cx="2670" cy="494" r="7"/><circle cx="2695" cy="494" r="7"/><circle cx="2720" cy="494" r="7"/><circle cx="2745" cy="494" r="7"/><circle cx="2770" cy="494" r="7"/><circle cx="2795" cy="494" r="7"/><circle cx="2820" cy="494" r="7"/>
<circle cx="2655" cy="506" r="7"/><circle cx="2680" cy="506" r="7"/><circle cx="2705" cy="506" r="7"/><circle cx="2730" cy="506" r="7"/><circle cx="2755" cy="506" r="7"/><circle cx="2780" cy="506" r="7"/><circle cx="2805" cy="506" r="7"/>
<circle cx="2665" cy="518" r="7"/><circle cx="2690" cy="518" r="7"/><circle cx="2715" cy="518" r="7"/><circle cx="2740" cy="518" r="7"/><circle cx="2765" cy="518" r="7"/><circle cx="2790" cy="518" r="7"/>
<circle cx="2660" cy="530" r="7"/><circle cx="2685" cy="530" r="7"/><circle cx="2710" cy="530" r="7"/><circle cx="2735" cy="530" r="7"/><circle cx="2760" cy="530" r="7"/><circle cx="2785" cy="530" r="7"/>
<circle cx="2680" cy="542" r="7"/><circle cx="2705" cy="542" r="7"/><circle cx="2730" cy="542" r="7"/><circle cx="2755" cy="542" r="7"/><circle cx="2780" cy="542" r="7"/>
<circle cx="2700" cy="554" r="7"/><circle cx="2728" cy="554" r="7"/><circle cx="2755" cy="554" r="7"/>
</g>
<use href="#d3r" xlink:href="#d3r" x="12" y="6"/>
<g fill="#0a8cff" fill-opacity=".6" stroke="#0a8cff" stroke-opacity=".75" stroke-width="1.5">
<circle cx="2403" cy="336" r="7"/><circle cx="2378" cy="439" r="7"/><circle cx="2752" cy="585" r="7"/>
<circle cx="2718" cy="427" r="7"/><circle cx="2745" cy="427" r="7"/><circle cx="2768" cy="425" r="7"/><circle cx="2688" cy="466" r="7"/><circle cx="2675" cy="451" r="7"/><circle cx="2716" cy="426" r="7"/><circle cx="2732" cy="511" r="7"/><circle cx="2805" cy="513" r="7"/>
</g>
<g id="d3b" fill="#0a8cff" fill-opacity=".6" stroke="#0a8cff" stroke-opacity=".75" stroke-width="1.5">
<circle cx="2767" cy="425" r="7"/><circle cx="2782" cy="437" r="7"/><circle cx="2795" cy="440" r="7"/><circle cx="2808" cy="445" r="7"/><circle cx="2770" cy="448" r="7"/><circle cx="2790" cy="455" r="7"/><circle cx="2810" cy="460" r="7"/><circle cx="2825" cy="462" r="7"/><circle cx="2835" cy="470" r="7"/><circle cx="2845" cy="478" r="7"/><circle cx="2820" cy="475" r="7"/><circle cx="2850" cy="490" r="7"/><circle cx="2860" cy="500" r="7"/><circle cx="2862" cy="475" r="7"/><circle cx="2855" cy="512" r="7"/><circle cx="2865" cy="520" r="7"/><circle cx="2870" cy="532" r="7"/><circle cx="2872" cy="545" r="7"/><circle cx="2868" cy="555" r="7"/><circle cx="2875" cy="565" r="7"/><circle cx="2865" cy="575" r="7"/><circle cx="2870" cy="585" r="7"/><circle cx="2860" cy="592" r="7"/><circle cx="2850" cy="600" r="7"/><circle cx="2858" cy="610" r="7"/><circle cx="2875" cy="612" r="7"/><circle cx="2845" cy="615" r="7"/><circle cx="2830" cy="620" r="7"/><circle cx="2840" cy="628" r="7"/><circle cx="2835" cy="640" r="7"/><circle cx="2826" cy="645" r="7"/><circle cx="2830" cy="655" r="7"/><circle cx="2857" cy="625" r="7"/><circle cx="2868" cy="635" r="7"/><circle cx="2838" cy="650" r="7"/><circle cx="2845" cy="660" r="7"/><circle cx="2833" cy="598" r="7"/><circle cx="2822" cy="600" r="7"/><circle cx="2840" cy="590" r="7"/><circle cx="2850" cy="580" r="7"/><circle cx="2855" cy="560" r="7"/><circle cx="2845" cy="545" r="7"/><circle cx="2850" cy="530" r="7"/><circle cx="2840" cy="515" r="7"/><circle cx="2830" cy="505" r="7"/><circle cx="2838" cy="495" r="7"/><circle cx="2825" cy="485" r="7"/><circle cx="2812" cy="478" r="7"/><circle cx="2800" cy="470" r="7"/><circle cx="2785" cy="462" r="7"/><circle cx="2800" cy="490" r="7"/><circle cx="2815" cy="500" r="7"/><circle cx="2820" cy="520" r="7"/><circle cx="2828" cy="535" r="7"/><circle cx="2835" cy="555" r="7"/><circle cx="2825" cy="565" r="7"/><circle cx="2810" cy="555" r="7"/><circle cx="2790" cy="540" r="7"/><circle cx="2860" cy="545" r="7"/><circle cx="2848" cy="570" r="7"/><circle cx="2862" cy="588" r="7"/>
</g>
<use href="#d3b" xlink:href="#d3b" x="-7" y="5"/>
<g fill="#0a8cff" fill-opacity=".6" stroke="#0a8cff" stroke-opacity=".75" stroke-width="1.5">
<circle cx="2852" cy="680" r="7"/>
</g>
<g fill="#e8005a" fill-opacity=".6" stroke="#e8005a" stroke-opacity=".75" stroke-width="1.5">
<circle cx="2861" cy="605" r="7"/><circle cx="2790" cy="470" r="7"/><circle cx="2770" cy="500" r="7"/><circle cx="2812" cy="530" r="7"/><circle cx="2840" cy="540" r="7"/><circle cx="2795" cy="515" r="7"/><circle cx="2760" cy="480" r="7"/><circle cx="2822" cy="555" r="7"/><circle cx="2873" cy="520" r="7"/>
</g>
<g class="t" text-anchor="middle">
<text x="2221" y="775">2.0</text><text x="2285" y="784">1.8</text><text x="2351" y="793">1.6</text><text x="2416" y="802">1.4</text><text x="2482" y="812">1.2</text><text x="2549" y="821">1.0</text><text x="2618" y="830">0.8</text><text x="2687" y="839">0.6</text>
<text x="2765" y="835">4.0</text><text x="2804" y="817">3.5</text><text x="2841" y="801">3.0</text><text x="2877" y="786">2.5</text><text x="2913" y="769">2.0</text><text x="2950" y="755">1.5</text><text x="2986" y="740">1.0</text><text x="3015" y="724">0.5</text>
<text x="3066" y="271">3</text><text x="3065" y="351">2</text><text x="3065" y="429">1</text><text x="3063" y="508">0</text><text x="3059" y="586">−1</text><text x="3059" y="665">−2</text>
</g>
<text class="al" transform="translate(2388,830) rotate(7)" text-anchor="middle" dominant-baseline="central">ExpoFM_T1C</text>
<text class="al" transform="translate(2950,793) rotate(-19.5)" text-anchor="middle" dominant-baseline="central">OrigFR_T1C</text>
<text class="al" transform="translate(3128,432) rotate(-90)" text-anchor="middle" dominant-baseline="central">OrigFM_T1C</text>
<circle cx="2927" cy="98" r="20" fill="#0a8cff"/>
<circle cx="2927" cy="151" r="20" fill="#e8005a"/>
<text class="lg" x="2977" y="113">LGG</text>
<text class="lg" x="2977" y="166">HGG</text>
<text class="ti" x="2626" y="921" text-anchor="middle">LHG</text>
</svg>
</body></html>
